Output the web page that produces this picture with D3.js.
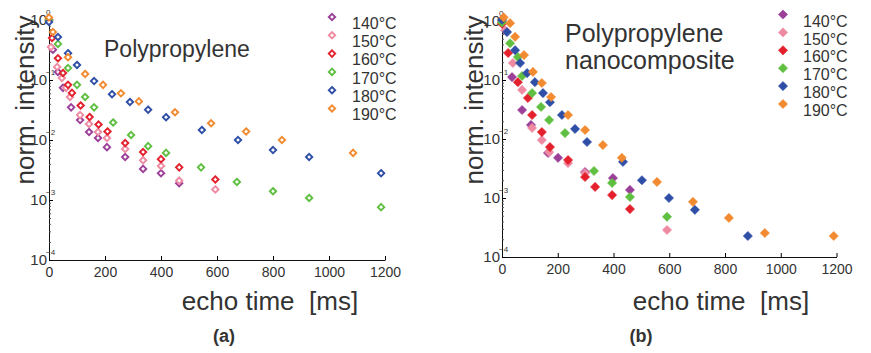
<!DOCTYPE html>
<html>
<head>
<meta charset="utf-8">
<script src="https://cdn.jsdelivr.net/npm/d3@7"></script>
<style>
  body { margin: 0; background: #fff; }
  text { font-family: Arial, "Liberation Sans", sans-serif; fill: #333; }
</style>
</head>
<body>
<svg id="chart" width="871" height="353"></svg>
<script>
const temps = ['140°C', '150°C', '160°C', '170°C', '180°C', '190°C'];
const xTicks = [0, 200, 400, 600, 800, 1000, 1200];
const yExps = [0, -1, -2, -3, -4];
const colors = ['#9b3f99', '#ee8ba2', '#e3202c', '#5fbf40', '#2f4fa7', '#f28a30'];

// (a) polypropylene: [echo time ms, norm. intensity]
const pp140 = [[0, 1], [14, 0.32], [32, 0.136], [50, 0.074], [79, 0.035], [111, 0.0215], [143, 0.0136], [175, 0.0108], [207, 0.0076], [272, 0.0052], [336, 0.0033], [400, 0.0028], [465, 0.0019]];
const pp150 = [[0, 1], [7, 0.355], [29, 0.165], [46, 0.108], [61, 0.074], [75, 0.052], [111, 0.026], [143, 0.0185], [175, 0.0136], [207, 0.0108], [272, 0.0071], [336, 0.0046], [400, 0.0037], [465, 0.0021], [594, 0.0015]];
const pp160 = [[0, 1], [11, 0.5], [32, 0.23], [50, 0.131], [68, 0.083], [82, 0.061], [113, 0.0376], [145, 0.0242], [177, 0.0181], [209, 0.0139], [272, 0.0089], [336, 0.0063], [400, 0.0048], [465, 0.0035], [594, 0.0022]];
const pp170 = [[0, 1], [32, 0.4], [68, 0.158], [100, 0.083], [129, 0.052], [161, 0.035], [229, 0.0196], [293, 0.0121], [354, 0.0079], [418, 0.0061], [543, 0.0035], [671, 0.002], [800, 0.0014], [929, 0.00108], [1186, 0.00076]];
const pp180 = [[0, 0.93], [32, 0.52], [68, 0.28], [100, 0.178], [161, 0.096], [225, 0.058], [289, 0.043], [354, 0.032], [418, 0.024], [546, 0.0147], [675, 0.01], [800, 0.0068], [929, 0.0052], [1186, 0.0028]];
const pp190 = [[0, 1.1], [14, 0.63], [68, 0.24], [129, 0.126], [193, 0.083], [257, 0.06], [321, 0.044], [450, 0.029], [579, 0.019], [704, 0.0139], [832, 0.01], [1086, 0.0061]];

// (b) polypropylene nanocomposite
const nc140 = [[0, 1], [36, 0.112], [72, 0.031], [104, 0.0173], [165, 0.0058], [201, 0.0048], [298, 0.00276], [398, 0.00218], [459, 0.00137]];
const nc150 = [[0, 0.95], [11, 0.7], [39, 0.194], [72, 0.068], [108, 0.0154], [143, 0.0096], [169, 0.006], [237, 0.0039], [298, 0.00265], [592, 0.000287]];
const nc160 = [[0, 0.9], [22, 0.287], [57, 0.092], [93, 0.0495], [108, 0.0255], [143, 0.0131], [172, 0.0073], [237, 0.0044], [298, 0.00227], [334, 0.00154], [395, 0.00112], [459, 0.00065]];
const nc170 = [[0, 0.95], [29, 0.42], [57, 0.245], [72, 0.117], [108, 0.06], [140, 0.0349], [169, 0.021], [226, 0.0126], [330, 0.00287], [395, 0.0018], [459, 0.00104], [592, 0.00048]];
const nc180 = [[0, 1.05], [18, 0.65], [47, 0.32], [65, 0.194], [90, 0.131], [118, 0.092], [147, 0.06], [172, 0.042], [215, 0.0255], [262, 0.0148], [305, 0.0089], [434, 0.0041], [502, 0.002], [599, 0.001], [692, 0.00063], [882, 0.000227]];
const nc190 = [[6, 1.15], [29, 0.92], [47, 0.54], [79, 0.265], [111, 0.137], [143, 0.089], [176, 0.0515], [237, 0.0255], [298, 0.0142], [362, 0.0079], [430, 0.0048], [556, 0.00187], [685, 0.00086], [814, 0.00046], [943, 0.000255], [1190, 0.000227]];

const svg = d3.select('#chart');

const panels = [
  {
    series: [pp140, pp150, pp160, pp170, pp180, pp190], hollow: true,
    x0: 49, x1: 385, yTop: 20, yBot: 260,
    title: ['Polypropylene'], titleX: 104, titleY: 57, titleSize: 23,
    legX: 332, legY: 17, legTextY: 23, legStep: 18.3,
    yLabelX: 25, xLabelX: 270, tag: '(a)', tagX: 224
  },
  {
    series: [nc140, nc150, nc160, nc170, nc180, nc190], hollow: false,
    x0: 502, x1: 836.5, yTop: 21, yBot: 257,
    title: ['Polypropylene', 'nanocomposite'], titleX: 565, titleY: 42, titleSize: 25,
    legX: 783, legY: 14.5, legTextY: 21, legStep: 17.9,
    yLabelX: 474, xLabelX: 721, tag: '(b)', tagX: 641
  }
];

const diamondPath = (s) => `M0,${-s}L${s},0L0,${s}L${-s},0Z`;

panels.forEach(p => {
  const g = svg.append('g');
  const x = d3.scaleLinear().domain([0, 1200]).range([p.x0, p.x1]);
  const y = d3.scaleLog().domain([1e-4, 1]).range([p.yBot, p.yTop]);

  // x axis, ticks pointing inward
  const xa = g.append('g')
    .attr('transform', `translate(0,${p.yBot})`)
    .call(d3.axisBottom(x).tickValues(xTicks).tickFormat(d3.format('d'))
      .tickSizeInner(-4).tickSizeOuter(0).tickPadding(7));
  xa.selectAll('text').style('font-size', '14px').attr('fill', '#333');
  xa.select('.domain').attr('stroke', '#111');

  // y axis with minor log ticks
  const minor = [];
  yExps.slice(1).forEach(e => { for (let k = 2; k <= 9; k++) minor.push(k * Math.pow(10, e)); });
  const ya = g.append('g')
    .attr('transform', `translate(${p.x0},0)`)
    .call(d3.axisLeft(y).tickValues(yExps.map(e => Math.pow(10, e))).tickSizeInner(-4).tickSizeOuter(0).tickFormat(''));
  ya.select('.domain').attr('stroke', '#111');
  g.append('g')
    .attr('transform', `translate(${p.x0},0)`)
    .call(d3.axisLeft(y).tickValues(minor).tickSizeInner(-2).tickSizeOuter(0).tickFormat(''))
    .call(a => a.select('.domain').remove())
    .selectAll('line').attr('stroke', '#555');

  yExps.forEach(e => {
    const yy = y(Math.pow(10, e));
    g.append('text').attr('x', p.x0 - 2).attr('y', yy).attr('dy', '0.35em')
      .attr('text-anchor', 'end').style('font-size', '15px').text('10');
    g.append('text').attr('x', p.x0 - 3).attr('y', yy - 5)
      .style('font-size', '8px').text(e === 0 ? '0' : '−' + (-e));
  });

  // axis titles
  g.append('text')
    .attr('transform', `translate(${p.yLabelX},100) rotate(-90)`)
    .attr('text-anchor', 'middle').attr('dy', '0.35em')
    .style('font-size', '26px').text('norm. intensity');
  g.append('text')
    .attr('x', p.xLabelX).attr('y', 310).attr('text-anchor', 'middle')
    .style('font-size', '26px').style('white-space', 'pre').attr('xml:space', 'preserve')
    .text('echo time  [ms]');
  g.append('text')
    .attr('x', p.tagX).attr('y', 342).attr('text-anchor', 'middle')
    .style('font-size', '18px').style('font-weight', 'bold').attr('fill', '#111')
    .text(p.tag);

  // panel title
  p.title.forEach((t, i) => {
    g.append('text').attr('x', p.titleX).attr('y', p.titleY + i * 27)
      .style('font-size', p.titleSize + 'px').text(t);
  });

  // markers
  p.series.forEach((s, i) => {
    g.append('g').selectAll('path')
      .data(s)
      .join('path')
      .attr('transform', d => `translate(${x(d[0])},${y(d[1])})`)
      .attr('d', diamondPath(p.hollow ? 3.2 : 4.6))
      .attr('fill', p.hollow ? '#fff' : colors[i])
      .attr('stroke', colors[i])
      .attr('stroke-width', p.hollow ? 1.9 : 0.6);
  });

  // legend
  temps.forEach((t, i) => {
    g.append('path')
      .attr('transform', `translate(${p.legX},${p.legY + i * p.legStep})`)
      .attr('d', diamondPath(p.hollow ? 3.2 : 4.6))
      .attr('fill', p.hollow ? '#fff' : colors[i])
      .attr('stroke', colors[i])
      .attr('stroke-width', p.hollow ? 1.9 : 0.6);
    g.append('text')
      .attr('x', p.legX + 20).attr('y', p.legTextY + i * p.legStep).attr('dy', '0.35em')
      .style('font-size', '16px').text(t);
  });
});
</script>
</body>
</html>
